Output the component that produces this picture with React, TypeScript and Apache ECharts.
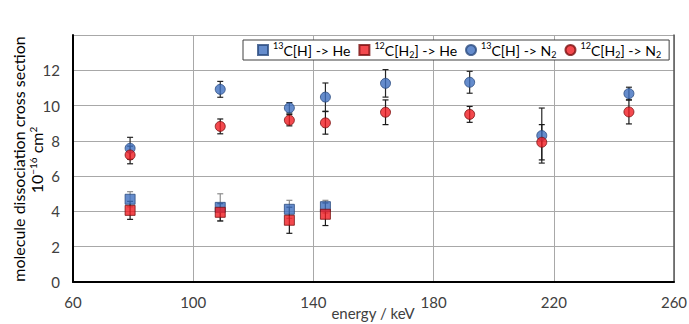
import React, { useEffect, useRef } from "react";
import * as echarts from "echarts";

const energyHe = [79, 109, 132, 144];
const energyN2 = [79, 109, 132, 144, 164, 192, 216, 245];
const he13 = [4.69, 4.23, 4.12, 4.27];
const he13Err = [0.43, 0.77, 0.51, 0.36];
const he12 = [4.06, 3.95, 3.5, 3.84];
const he12Err = [0.51, 0.49, 0.74, 0.64];
const n13 = [7.58, 10.92, 9.87, 10.48, 11.26, 11.32, 8.3, 10.68];
const n13Err = [0.62, 0.45, 0.3, 0.8, 0.78, 0.62, 1.56, 0.36];
const n12 = [7.2, 8.82, 9.17, 9.02, 9.62, 9.5, 7.92, 9.64];
const n12Err = [0.5, 0.42, 0.32, 0.64, 0.7, 0.45, 1.0, 0.68];

const seriesNames = ["13C[H] -> He", "12C[H2] -> He", "13C[H] -> N2", "12C[H2] -> N2"];
const legendLabels = [
  "{sup|13}C[H] -> He",
  "{sup|12}C[H{sub|2}] -> He",
  "{sup|13}C[H] -> N{sub|2}",
  "{sup|12}C[H{sub|2}] -> N{sub|2}",
];

const BLUE = "#3f6fbf";
const BLUE_B = "#2a4b80";
const RED = "#f01c22";
const RED_B = "#7a1010";
const FONT = "Lato";

function pts(xs: number[], ys: number[]) {
  return xs.map((x, i) => [x, ys[i]]);
}
function errs(xs: number[], ys: number[], es: number[]) {
  return xs.map((x, i) => [x, ys[i] - es[i], ys[i] + es[i]]);
}

function errSeries(data: number[][], color: string) {
  return {
    type: "custom",
    z: 1,
    silent: true,
    renderItem: (params: any, api: any) => {
      const x = api.value(0);
      const lo = api.coord([x, api.value(1)]);
      const hi = api.coord([x, api.value(2)]);
      const c = 3;
      const st = { stroke: color, lineWidth: 1.2 };
      return {
        type: "group",
        children: [
          { type: "line", shape: { x1: lo[0], y1: lo[1], x2: hi[0], y2: hi[1] }, style: st },
          { type: "line", shape: { x1: lo[0] - c, y1: lo[1], x2: lo[0] + c, y2: lo[1] }, style: st },
          { type: "line", shape: { x1: hi[0] - c, y1: hi[1], x2: hi[0] + c, y2: hi[1] }, style: st },
        ],
      };
    },
    encode: { x: 0, y: [1, 2] },
    data,
  };
}

export default function App() {
  const ref = useRef<HTMLDivElement>(null);
  useEffect(() => {
    if (!ref.current) return;
    const chart = echarts.init(ref.current, undefined, { renderer: "svg" });
    const axisLabel = { fontFamily: FONT, fontSize: 15, color: "#404040" };
    chart.setOption({
      animation: false,
      backgroundColor: "#fff",
      grid: { left: 73, right: 15, top: 35, bottom: 42, containLabel: false, outerBoundsMode: "none" },
      legend: {
        data: seriesNames.map((n, i) => ({ name: n, icon: i < 2 ? "rect" : "circle" })),
        left: 243,
        top: 40,
        width: 440,
        padding: [1, 8, 1, 14],
        itemGap: 8,
        itemWidth: 10,
        itemHeight: 10,
        borderColor: "#404040",
        borderWidth: 1,
        backgroundColor: "#fff",
        formatter: (name: string) => legendLabels[seriesNames.indexOf(name)],
        textStyle: {
          fontFamily: FONT,
          fontSize: 14,
          color: "#000",
          lineHeight: 18,
          rich: {
            sup: { fontFamily: FONT, fontSize: 9, verticalAlign: "top", lineHeight: 12 },
            sub: { fontFamily: FONT, fontSize: 9, verticalAlign: "bottom", lineHeight: 10 },
          },
        },
      },
      xAxis: {
        type: "value",
        min: 60,
        max: 260,
        interval: 40,
        axisLine: { show: true, lineStyle: { color: "#000", width: 2 } },
        axisTick: { show: false },
        axisLabel: { ...axisLabel, margin: 12 },
        splitLine: { show: true, lineStyle: { color: "#a8a8a8", width: 1 } },
      },
      yAxis: [
        {
          type: "value",
          min: 0,
          max: 14,
          interval: 2,
          axisLine: { show: true, lineStyle: { color: "#000", width: 2 } },
          axisTick: { show: false },
          axisLabel: { ...axisLabel, margin: 13, formatter: (v: number) => (v === 14 ? "" : String(v)) },
          splitLine: { show: true, lineStyle: { color: "#a8a8a8", width: 1 } },
        },
        {
          type: "value",
          position: "right",
          min: 0,
          max: 14,
          interval: 2,
          axisLine: { show: true, lineStyle: { color: "#595959", width: 1.5 } },
          axisTick: { show: false },
          axisLabel: { show: false },
          splitLine: { show: false },
        },
      ],
      graphic: [
        {
          type: "text",
          x: 18,
          y: 159,
          rotation: Math.PI / 2,
          style: {
            text: "molecule dissociation cross section",
            fontFamily: FONT,
            fontSize: 16,
            fill: "#000",
            align: "center",
            verticalAlign: "middle",
          },
        },
        {
          type: "text",
          x: 36,
          y: 160,
          rotation: Math.PI / 2,
          style: {
            text: "10{sup|−16} cm{sup|2}",
            fontFamily: FONT,
            fontSize: 16,
            fill: "#000",
            align: "center",
            verticalAlign: "middle",
            rich: {
              sup: { fontFamily: FONT, fontSize: 10, fill: "#000", verticalAlign: "top", lineHeight: 10 },
            },
          },
        },
        {
          type: "text",
          x: 373,
          y: 313,
          style: {
            text: "energy / keV",
            fontFamily: FONT,
            fontSize: 15,
            fill: "#404040",
            align: "center",
            verticalAlign: "middle",
          },
        },
      ],
      series: [
        errSeries(errs(energyHe, he13, he13Err), "#8c8c8c"),
        errSeries(errs(energyHe, he12, he12Err), "#1a1a1a"),
        errSeries(errs(energyN2, n13, n13Err), "#262626"),
        errSeries(errs(energyN2, n12, n12Err), "#1a1a1a"),
        {
          name: seriesNames[0],
          type: "scatter",
          symbol: "rect",
          symbolSize: 10,
          z: 3,
          itemStyle: { color: BLUE, borderColor: BLUE_B, borderWidth: 1 },
          data: pts(energyHe, he13),
        },
        {
          name: seriesNames[1],
          type: "scatter",
          symbol: "rect",
          symbolSize: 10,
          z: 3,
          itemStyle: { color: RED, borderColor: RED_B, borderWidth: 1 },
          data: pts(energyHe, he12),
        },
        {
          name: seriesNames[2],
          type: "scatter",
          symbol: "circle",
          symbolSize: 10,
          z: 3,
          itemStyle: { color: BLUE, borderColor: BLUE_B, borderWidth: 1 },
          data: pts(energyN2, n13),
        },
        {
          name: seriesNames[3],
          type: "scatter",
          symbol: "circle",
          symbolSize: 10,
          z: 3,
          itemStyle: { color: RED, borderColor: RED_B, borderWidth: 1 },
          data: pts(energyN2, n12),
        },
      ],
    });
    return () => chart.dispose();
  }, []);
  return <div ref={ref} style={{ width: 689, height: 324, position: "absolute", left: 0, top: 0 }} />;
}
